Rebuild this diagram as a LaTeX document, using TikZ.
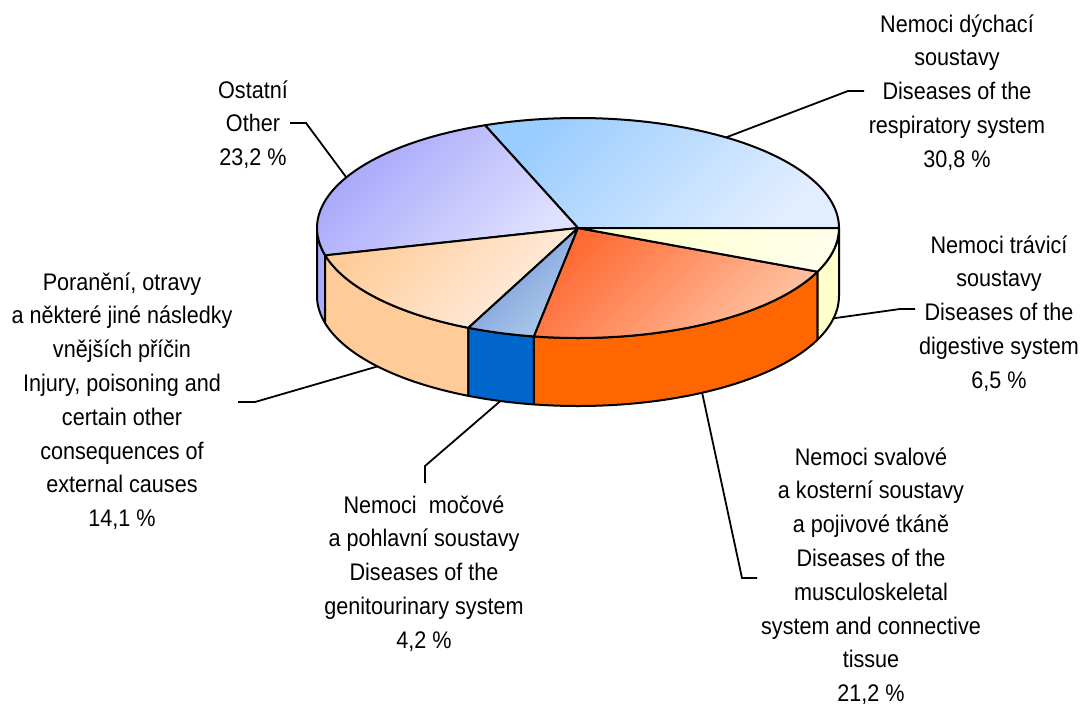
\documentclass[tikz,border=0pt]{standalone}
\usepackage{fontspec}
\setmainfont{Liberation Sans}[FakeStretch=0.9]
\begin{document}
\begin{tikzpicture}[x=1pt,y=1pt,
  edge/.style={draw=black,line width=2pt,line join=round},
  leader/.style={draw=black,line width=1.8pt},
  lbl/.style={anchor=north,align=center,inner sep=0pt,font=\fontsize{24}{33.8}\selectfont}]
\useasboundingbox (0,0) rectangle (1083,-709);
\def\cx{578}\def\cy{-228}\def\rx{261}\def\ry{110}\def\dep{68}
\coordinate (C) at (\cx,\cy);
\newcommand\sideface[3]{%
  \filldraw[edge,fill=#3] ({\cx+\rx*cos(#1)},{\cy+\ry*sin(#1)}) arc[start angle=#1,end angle=#2,x radius=261pt,y radius=110pt] -- ++(0,-\dep) arc[start angle=#2,end angle=#1,x radius=261pt,y radius=110pt] -- cycle;}
\newcommand\topslice[4]{%
  \draw[edge,top color=#3,bottom color=#4,shading angle=45] (C) -- ({\cx+\rx*cos(#1)},{\cy+\ry*sin(#1)}) arc[start angle=#1,end angle=#2,x radius=261pt,y radius=110pt] -- cycle;}
\definecolor{respA}{HTML}{99CCFF}\definecolor{respB}{HTML}{E2EEFF}
\definecolor{othA}{HTML}{A0A0FA}\definecolor{othB}{HTML}{E0E0FF}
\definecolor{othS}{HTML}{AAAAFF}
\definecolor{injA}{HTML}{FFCC99}\definecolor{injB}{HTML}{FFF0E4}
\definecolor{injS}{HTML}{FFCC99}
\definecolor{genA}{HTML}{6F93DA}\definecolor{genB}{HTML}{B0CCEA}
\definecolor{genS}{HTML}{0066CC}
\definecolor{musA}{HTML}{FF6A33}\definecolor{musB}{HTML}{FFC6A8}
\definecolor{musS}{HTML}{FF6600}
\definecolor{digA}{HTML}{FFFFCC}\definecolor{digB}{HTML}{FFFFEA}
\definecolor{digS}{HTML}{FFFFCC}
% side faces
\sideface{180}{194.4}{othS}
\sideface{194.4}{245.16}{injS}
\sideface{245.16}{260.28}{genS}
\sideface{260.28}{336.6}{musS}
\sideface{336.6}{360}{digS}
% top faces
\topslice{0}{110.88}{respA}{respB}
\topslice{110.88}{194.4}{othA}{othB}
\topslice{194.4}{245.16}{injA}{injB}
\topslice{245.16}{260.28}{genA}{genB}
\topslice{260.28}{336.6}{musA}{musB}
\topslice{336.6}{360}{digA}{digB}
% anchor points on the pie
\coordinate (pResp) at ({\cx+\rx*cos(55.44)},{\cy+\ry*sin(55.44)});
\coordinate (pOth) at ({\cx+\rx*cos(152.6)},{\cy+\ry*sin(152.6)});
\coordinate (pInj) at ({\cx+\rx*cos(219.8)},{\cy-\dep+\ry*sin(219.8)});
\coordinate (pGen) at ({\cx+\rx*cos(252.7)},{\cy-\dep+\ry*sin(252.7)});
\coordinate (pMus) at ({\cx+\rx*cos(298.4)},{\cy-\dep+\ry*sin(298.4)});
\coordinate (pDig) at ({\cx+\rx*cos(348.3)},{\cy-\dep+\ry*sin(348.3)});
% labels
\node[lbl] (resp) at (957,-8.3) {\strut Nemoci dýchací\\soustavy\\Diseases of the\\respiratory system\\30,8 \%};
\node[lbl] (dig) at (999,-229.3) {\strut Nemoci trávicí\\soustavy\\Diseases of the\\digestive system\\6,5 \%};
\node[lbl] (mus) at (871,-441.3) {\strut Nemoci svalové\\a kosterní soustavy\\a pojivové tkáně\\Diseases of the\\musculoskeletal\\system and connective\\tissue\\21,2 \%};
\node[lbl] (gen) at (424,-489.3) {\strut Nemoci\ \ močové\\a pohlavní soustavy\\Diseases of the\\genitourinary system\\4,2 \%};
\node[lbl] (inj) at (122,-266.3) {\strut Poranění, otravy\\a některé jiné následky\\vnějších příčin\\Injury, poisoning and\\certain other\\consequences of\\external causes\\14,1 \%};
\node[lbl] (oth) at (253,-74.3) {\strut Ostatní\\Other\\23,2 \%};
% leader ends
\coordinate (lResp) at (864,-91); \coordinate (kResp) at (848,-91);
\coordinate (lDig) at (915,-309); \coordinate (kDig) at (900,-309);
\coordinate (lMus) at (757,-578); \coordinate (kMus) at (742,-578);
\coordinate (lGen) at (425,-483); \coordinate (kGen) at (425,-466);
\coordinate (lInj) at (238,-402); \coordinate (kInj) at (255,-402);
\coordinate (lOth) at (290,-123); \coordinate (kOth) at (306,-123);
\draw[leader] (lResp) -- (kResp) -- (pResp);
\draw[leader] (lDig) -- (kDig) -- (pDig);
\draw[leader] (lMus) -- (kMus) -- (pMus);
\draw[leader] (lGen) -- (kGen) -- (pGen);
\draw[leader] (lInj) -- (kInj) -- (pInj);
\draw[leader] (lOth) -- (kOth) -- (pOth);
\end{tikzpicture}
\end{document}
